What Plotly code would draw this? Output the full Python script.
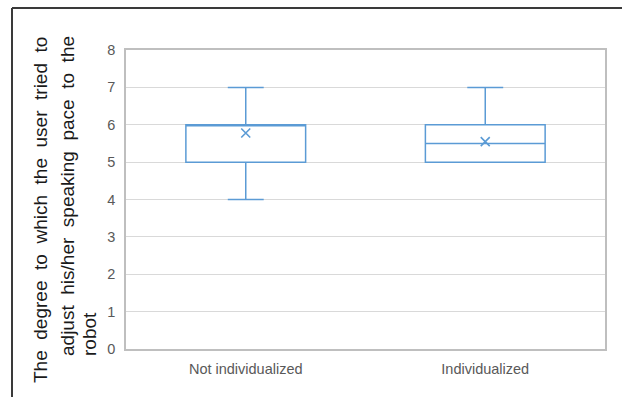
import plotly.graph_objects as go

# Data
categories = ["Not individualized", "Individualized"]
q1 = [5, 5]
median = [6, 5.5]
q3 = [6, 6]
lower_whisker = [4, 5]
upper_whisker = [7, 7]
means = [5.78, 5.55]
y_ticks = [0, 1, 2, 3, 4, 5, 6, 7, 8]

title_lines = [
    "The degree to which the user tried to",
    "adjust his/her speaking pace to the",
    "robot",
]

BLUE = "#5b9bd5"
W, H = 622, 397
L, R, T, B = 126, 17, 50, 48
pw, ph = W - L - R, H - T - B


def px_to_paper_x(px):
    return (px - L) / pw


def px_to_paper_y(py):
    return (H - B - py) / ph


def justify(line, spaces):
    return ("\u00a0" * spaces).join(line.split(" "))


fig = go.Figure()
fig.add_trace(go.Box(
    x=categories,
    q1=q1, median=median, q3=q3,
    lowerfence=lower_whisker, upperfence=upper_whisker,
    boxpoints=False,
    line=dict(color=BLUE, width=1.5),
    fillcolor="rgba(255,255,255,0)",
    width=0.5,
    whiskerwidth=0.3,
    showlegend=False,
    hoverinfo="skip",
))
fig.add_trace(go.Scatter(
    x=categories, y=means, mode="markers",
    marker=dict(symbol="x-thin", size=9, line=dict(color=BLUE, width=1.6)),
    showlegend=False, hoverinfo="skip",
))

# Y title as three rotated lines
title_specs = [
    (justify(title_lines[0], 2), 40, 384),
    (justify(title_lines[1], 2), 67, 357),
    (title_lines[2], 89, 357),
]
for text, cx, ybottom in title_specs:
    fig.add_annotation(
        text=text, textangle=-90, showarrow=False,
        xref="paper", yref="paper",
        x=px_to_paper_x(cx), y=px_to_paper_y(ybottom),
        xanchor="center", yanchor="bottom",
        font=dict(family="Liberation Sans, Arial", size=19, color="#1a1a1a"),
        borderpad=0,
    )

# Outer frame (top and left dark lines)
fig.add_shape(type="line", xref="paper", yref="paper",
              x0=px_to_paper_x(12), x1=px_to_paper_x(630),
              y0=px_to_paper_y(8), y1=px_to_paper_y(8),
              line=dict(color="#3a3a3a", width=2))
fig.add_shape(type="line", xref="paper", yref="paper",
              x0=px_to_paper_x(12), x1=px_to_paper_x(12),
              y0=px_to_paper_y(8), y1=px_to_paper_y(405),
              line=dict(color="#3a3a3a", width=2))

fig.update_layout(
    width=W, height=H,
    margin=dict(l=L, r=R, t=T, b=B),
    paper_bgcolor="white", plot_bgcolor="white",
    font=dict(family="Liberation Sans, Arial", color="#595959", size=14),
    xaxis=dict(
        type="category", range=[-0.5, 1.5],
        showgrid=False, showline=True, mirror=True,
        linecolor="#bfbfbf", linewidth=1.5,
        ticks="", ticklabelstandoff=6,
        tickfont=dict(size=14.5, color="#595959"),
    ),
    yaxis=dict(
        range=[0, 8], tickvals=y_ticks,
        showgrid=True, gridcolor="#d9d9d9", gridwidth=1,
        zeroline=False, showline=True, mirror=True,
        linecolor="#bfbfbf", linewidth=1.5,
        ticks="", ticklabelstandoff=6,
        tickfont=dict(size=14.5, color="#595959"),
    ),
)

fig.write_html("out.html")
